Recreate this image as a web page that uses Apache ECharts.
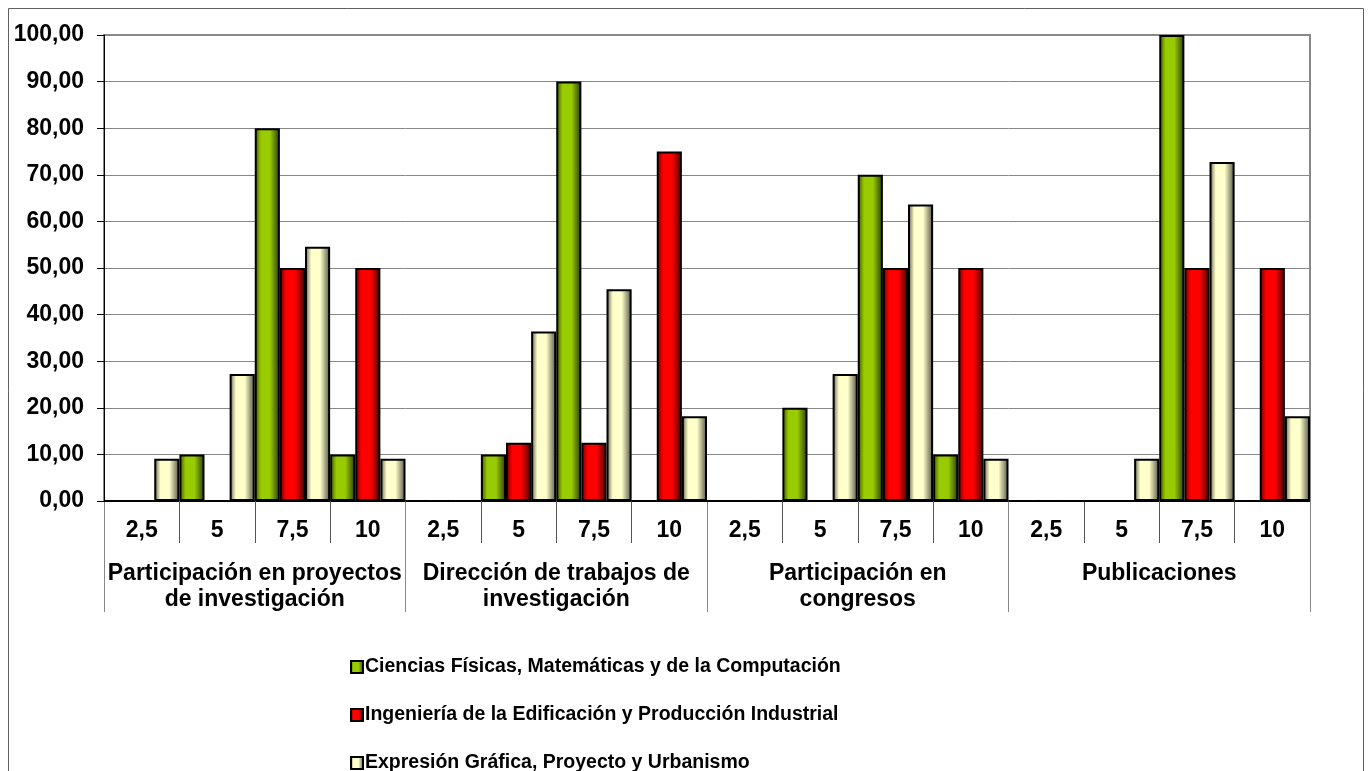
<!DOCTYPE html>
<html>
<head>
<meta charset="utf-8">
<script src="https://cdn.jsdelivr.net/npm/echarts@6/dist/echarts.min.js"></script>
<style>
html,body{margin:0;padding:0;background:#fff;}
#chart{width:1369px;height:771px;}
</style>
</head>
<body>
<div id="chart"></div>
<script>
// Data
var subCategories = ['2,5','5','7,5','10','2,5','5','7,5','10','2,5','5','7,5','10','2,5','5','7,5','10'];
var groups = ['Participación en proyectos\nde investigación','Dirección de trabajos de\ninvestigación','Participación en\ncongresos','Publicaciones'];
var seriesNames = ['Ciencias Físicas, Matemáticas y de la Computación','Ingeniería de la Edificación y Producción Industrial','Expresión Gráfica, Proyecto y Urbanismo'];
var ciencias   = [0, 10, 80, 10,   0, 10, 90, 0,      0, 20, 70, 10,   0, 0, 100, 0];
var ingenieria = [0, 0, 50, 50,    0, 12.5, 12.5, 75, 0, 0, 50, 50,    0, 0, 50, 50];
var expresion  = [9.09, 27.27, 54.55, 9.09,  0, 36.36, 45.45, 18.18,  0, 27.27, 63.64, 9.09,  0, 9.09, 72.73, 18.18];

function grad(dark, mid, dark2){
  return new echarts.graphic.LinearGradient(0,0,1,0,[
    {offset:0,color:dark},{offset:0.25,color:mid},{offset:0.6,color:mid},{offset:1,color:dark2}
  ]);
}
var fills = [
  grad('#3a5000','#99cc00','#283800'),
  grad('#6a0000','#ff0000','#480000'),
  grad('#5a5a46','#ffffcc','#505042')
];

var font = '"Liberation Sans", Arial, sans-serif';
var chart = echarts.init(document.getElementById('chart'));
var vals = [ciencias, ingenieria, expresion];
chart.setOption({
  animation:false,
  backgroundColor:'#ffffff',
  graphic:[{type:'rect',shape:{x:8.5,y:8.5,width:1355,height:780},style:{fill:null,stroke:'#606060',lineWidth:1},silent:true}],
  grid:{left:104,top:35,width:1206,height:466,show:true,borderColor:'#888888',borderWidth:2,containLabel:false},
  legend:{
    orient:'vertical',left:345,top:652,height:200,itemGap:28,itemWidth:12,itemHeight:12,icon:'rect',
    textStyle:{fontFamily:font,fontWeight:'bold',fontSize:19.5,color:'#000',padding:[0,0,0,-3]},
    itemStyle:{borderColor:'#000',borderWidth:2},
    data:seriesNames
  },
  xAxis:[{
    type:'category',data:subCategories,position:'bottom',
    axisLine:{show:true,lineStyle:{color:'#000',width:1}},
    axisTick:{show:true,interval:0,length:42,lineStyle:{color:'#555',width:1}},
    axisLabel:{show:true,interval:0,margin:18,fontFamily:font,fontWeight:'bold',fontSize:23,color:'#000'},
    splitLine:{show:false}
  },{
    type:'category',data:groups,position:'bottom',
    axisLine:{show:false},
    axisTick:{show:true,interval:0,length:111,lineStyle:{color:'#888',width:1}},
    axisLabel:{show:true,interval:0,margin:60,fontFamily:font,fontWeight:'bold',fontSize:23,color:'#000',lineHeight:26},
    splitLine:{show:false}
  }],
  yAxis:{
    type:'value',min:0,max:100,interval:10,
    axisLine:{show:true,lineStyle:{color:'#000',width:1}},
    axisTick:{show:true,length:7,lineStyle:{color:'#000'}},
    axisLabel:{margin:20,fontFamily:font,fontWeight:'bold',fontSize:23,color:'#000',
      formatter:function(v){return v.toFixed(2).replace('.',',');}},
    splitLine:{lineStyle:{color:'#888',width:1}}
  },
  series:seriesNames.map(function(n,i){
    return {
      name:n,type:'bar',xAxisIndex:0,data:vals[i],
      barGap:'0%',barCategoryGap:'0%',
      itemStyle:{color:fills[i],borderColor:'#000',borderWidth:2}
    };
  })
});
</script>
</body>
</html>
